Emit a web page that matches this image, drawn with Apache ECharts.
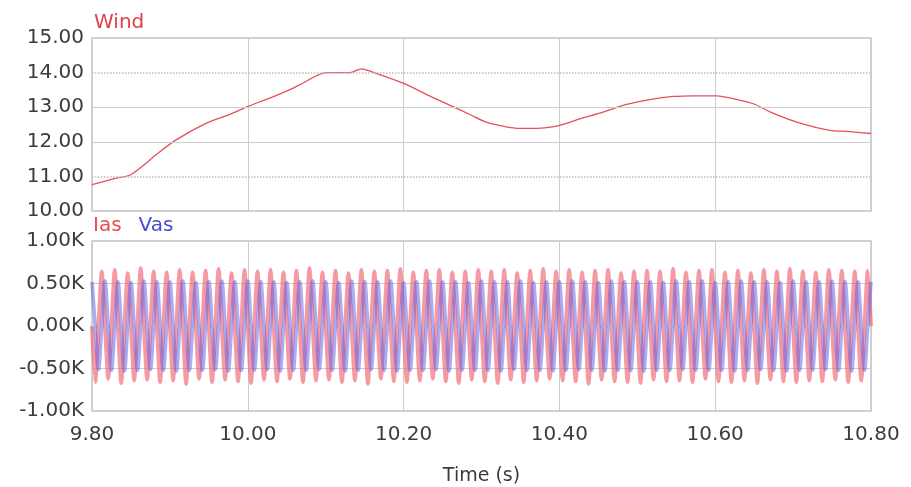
<!DOCTYPE html>
<html>
<head>
<meta charset="utf-8">
<title>Wind, Ias, Vas</title>
<script src="https://cdn.jsdelivr.net/npm/echarts@6/dist/echarts.min.js"></script>
<style>
  html, body { margin: 0; padding: 0; background: #ffffff; }
  #chart { width: 911px; height: 487px; }
</style>
</head>
<body>
<div id="chart"></div>
<script>
// Wind speed trace (time in s, speed in m/s)
const windTime = [9.800, 9.830, 9.849, 9.865, 9.883, 9.909, 9.947, 9.977, 10.001, 10.028,
  10.054, 10.067, 10.101, 10.131, 10.146, 10.157, 10.200, 10.234, 10.264, 10.285,
  10.307, 10.328, 10.349, 10.371, 10.399, 10.426, 10.456, 10.486, 10.516, 10.546,
  10.572, 10.602, 10.628, 10.649, 10.674, 10.709, 10.747, 10.769, 10.800];
const windSpeed = [10.76, 10.94, 11.04, 11.30, 11.64, 12.07, 12.54, 12.79, 13.03, 13.26,
  13.51, 13.65, 14.00, 14.00, 14.11, 14.04, 13.69, 13.32, 13.01, 12.79,
  12.56, 12.45, 12.39, 12.39, 12.47, 12.66, 12.86, 13.08, 13.22, 13.31,
  13.33, 13.33, 13.22, 13.10, 12.83, 12.54, 12.33, 12.30, 12.24];

// Stator phase-a quantities, sampled every quarter cycle of 60 Hz (values in K)
const sampleStep = 1 / 240;
const vasStart = 9.800;
const vasSamples = [
  0.52,0,-0.51,0, 0.53,0,-0.52,0, 0.52,0,-0.53,0, 0.51,0,-0.52,0, 0.53,0,-0.51,0, 0.52,0,-0.52,0,
  0.52,0,-0.53,0, 0.53,0,-0.52,0, 0.51,0,-0.52,0, 0.52,0,-0.51,0, 0.53,0,-0.53,0, 0.52,0,-0.52,0,
  0.53,0,-0.52,0, 0.52,0,-0.51,0, 0.52,0,-0.53,0, 0.51,0,-0.52,0, 0.52,0,-0.52,0, 0.53,0,-0.51,0,
  0.52,0,-0.52,0, 0.51,0,-0.53,0, 0.53,0,-0.52,0, 0.52,0,-0.51,0, 0.52,0,-0.52,0, 0.53,0,-0.53,0,
  0.51,0,-0.52,0, 0.52,0,-0.52,0, 0.53,0,-0.51,0, 0.52,0,-0.53,0, 0.52,0,-0.52,0, 0.51,0,-0.52,0,
  0.53,0,-0.52,0, 0.52,0,-0.53,0, 0.52,0,-0.51,0, 0.53,0,-0.52,0, 0.51,0,-0.52,0, 0.52,0,-0.53,0,
  0.52,0,-0.52,0, 0.53,0,-0.51,0, 0.52,0,-0.52,0, 0.51,0,-0.53,0, 0.53,0,-0.52,0, 0.52,0,-0.52,0,
  0.52,0,-0.53,0, 0.52,0,-0.52,0, 0.51,0,-0.52,0, 0.53,0,-0.51,0, 0.52,0,-0.52,0, 0.53,0,-0.52,0,
  0.51,0,-0.52,0, 0.52,0,-0.53,0, 0.53,0,-0.52,0, 0.52,0,-0.51,0, 0.52,0,-0.52,0, 0.51,0,-0.53,0,
  0.53,0,-0.52,0, 0.52,0,-0.52,0, 0.52,0,-0.51,0, 0.53,0,-0.52,0, 0.52,0,-0.53,0, 0.52,0,-0.52,0,
  0.52
];
const iasStart = 9.800;
const iasSamples = [
  0,-0.66,0,0.64, 0,-0.62,0,0.66, 0,-0.67,0,0.62, 0,-0.64,0,0.68, 0,-0.63,0,0.64, 0,-0.66,0,0.63,
  0,-0.64,0,0.66, 0,-0.68,0,0.63, 0,-0.62,0,0.65, 0,-0.66,0,0.67, 0,-0.63,0,0.62, 0,-0.65,0,0.66,
  0,-0.67,0,0.64, 0,-0.63,0,0.66, 0,-0.65,0,0.63, 0,-0.62,0,0.65, 0,-0.66,0,0.68, 0,-0.64,0,0.63,
  0,-0.63,0,0.65, 0,-0.66,0,0.62, 0,-0.64,0,0.66, 0,-0.68,0,0.64, 0,-0.62,0,0.65, 0,-0.65,0,0.67,
  0,-0.66,0,0.63, 0,-0.64,0,0.65, 0,-0.62,0,0.66, 0,-0.65,0,0.63, 0,-0.67,0,0.64, 0,-0.63,0,0.66,
  0,-0.65,0,0.64, 0,-0.67,0,0.66, 0,-0.63,0,0.62, 0,-0.66,0,0.65, 0,-0.64,0,0.67, 0,-0.62,0,0.64,
  0,-0.64,0,0.66, 0,-0.65,0,0.63, 0,-0.68,0,0.65, 0,-0.63,0,0.66, 0,-0.65,0,0.62, 0,-0.66,0,0.64,
  0,-0.67,0,0.65, 0,-0.63,0,0.64, 0,-0.65,0,0.67, 0,-0.64,0,0.63, 0,-0.66,0,0.65, 0,-0.62,0,0.66,
  0,-0.65,0,0.63, 0,-0.66,0,0.65, 0,-0.64,0,0.62, 0,-0.67,0,0.66, 0,-0.63,0,0.64, 0,-0.65,0,0.67,
  0,-0.66,0,0.64, 0,-0.64,0,0.63, 0,-0.65,0,0.66, 0,-0.63,0,0.65, 0,-0.66,0,0.64, 0,-0.64,0,0.65,
  0
];

// Axis ranges and ticks
const timeTicks = { min: 9.8, max: 10.8, step: 0.2 };
const windTicks = { min: 10, max: 15, step: 1 };
const elecTicks = { min: -1, max: 1, step: 0.5 };

const windColor = '#e5505e';
const iasColor = '#f06470';
const vasColor = '#5a5ae4';
const gridColor = '#cdcdcd';
const labelFont = 'DejaVu Sans';

function toPairs(start, samples) {
  return samples.map((v, i) => [start + i * sampleStep, v]);
}

const chart = echarts.init(document.getElementById('chart'), null, { renderer: 'canvas' });

const axisLabel = { color: '#3c3c3c', fontFamily: labelFont, fontSize: 20 };

chart.setOption({
  animation: false,
  backgroundColor: '#ffffff',
  legend: [
    {
      data: [{ name: 'Wind', textStyle: { color: '#e0404c' } }],
      left: 84, top: 8, icon: 'none', itemWidth: 0, itemHeight: 0,
      selectedMode: false,
      textStyle: { fontFamily: labelFont, fontSize: 20 }
    },
    {
      data: [
        { name: 'Ias', textStyle: { color: '#ee4a56' } },
        { name: 'Vas', textStyle: { color: '#4a4ad8' } }
      ],
      left: 83, top: 211, icon: 'none', itemWidth: 0, itemHeight: 0, itemGap: 12,
      selectedMode: false,
      textStyle: { fontFamily: labelFont, fontSize: 20 }
    }
  ],
  grid: [
    { left: 92, top: 38, width: 779, height: 173, show: true, borderColor: '#c4c4c4', borderWidth: 1.5, backgroundColor: 'transparent' },
    { left: 92, top: 241, width: 779, height: 170, show: true, borderColor: '#c4c4c4', borderWidth: 1.5, backgroundColor: 'transparent' }
  ],
  xAxis: [
    {
      type: 'value', gridIndex: 0,
      min: timeTicks.min, max: timeTicks.max, interval: timeTicks.step,
      axisLine: { show: false }, axisTick: { show: false }, axisLabel: { show: false },
      splitLine: { show: true, lineStyle: { color: gridColor, width: 1 } }
    },
    {
      type: 'value', gridIndex: 1,
      min: timeTicks.min, max: timeTicks.max, interval: timeTicks.step,
      axisLine: { show: false }, axisTick: { show: false },
      axisLabel: Object.assign({ margin: 14, formatter: v => v.toFixed(2) }, axisLabel),
      splitLine: { show: true, lineStyle: { color: gridColor, width: 1 } },
      name: 'Time (s)', nameLocation: 'middle', nameGap: 56,
      nameTextStyle: { color: '#3c3c3c', fontFamily: labelFont, fontSize: 19 }
    }
  ],
  yAxis: [
    {
      type: 'value', gridIndex: 0,
      min: windTicks.min, max: windTicks.max, interval: windTicks.step,
      axisLine: { show: false }, axisTick: { show: false },
      axisLabel: Object.assign({ margin: 8, formatter: v => v.toFixed(2) }, axisLabel),
      splitLine: { show: false }
    },
    {
      type: 'value', gridIndex: 1,
      min: elecTicks.min, max: elecTicks.max, interval: elecTicks.step,
      axisLine: { show: false }, axisTick: { show: false },
      axisLabel: Object.assign({ margin: 8, formatter: v => v.toFixed(2) + 'K' }, axisLabel),
      splitLine: { show: true, lineStyle: { color: gridColor, width: 1 } }
    }
  ],
  series: [
    {
      name: 'Wind', type: 'line', xAxisIndex: 0, yAxisIndex: 0,
      data: windTime.map((t, i) => [t, windSpeed[i]]),
      showSymbol: false, smooth: 0.3,
      lineStyle: { color: windColor, width: 1.3 },
      itemStyle: { color: windColor },
      markLine: {
        silent: true, symbol: 'none', label: { show: false },
        lineStyle: { color: gridColor, width: 1, type: 'solid' },
        data: [
          { yAxis: 14, lineStyle: { type: 'dotted', color: '#bdbdbd', width: 1.5 } },
          { yAxis: 13 },
          { yAxis: 12 },
          { yAxis: 11, lineStyle: { type: 'dotted', color: '#bdbdbd', width: 1.5 } }
        ]
      },
      z: 3
    },
    {
      name: 'Ias', type: 'line', xAxisIndex: 1, yAxisIndex: 1,
      data: toPairs(iasStart, iasSamples),
      showSymbol: false, smooth: 0.2,
      lineStyle: { color: iasColor, width: 4, opacity: 0.65 },
      itemStyle: { color: iasColor },
      z: 2
    },
    {
      name: 'Vas', type: 'line', xAxisIndex: 1, yAxisIndex: 1,
      data: toPairs(vasStart, vasSamples),
      showSymbol: false, smooth: 0.35,
      lineStyle: { color: vasColor, width: 3.6, opacity: 0.5 },
      itemStyle: { color: vasColor },
      markLine: {
        silent: true, symbol: 'none', label: { show: false },
        lineStyle: { color: '#a9b6f2', width: 1, type: 'dashed' },
        data: [{ yAxis: 0 }]
      },
      z: 3
    }
  ]
});
</script>
</body>
</html>
